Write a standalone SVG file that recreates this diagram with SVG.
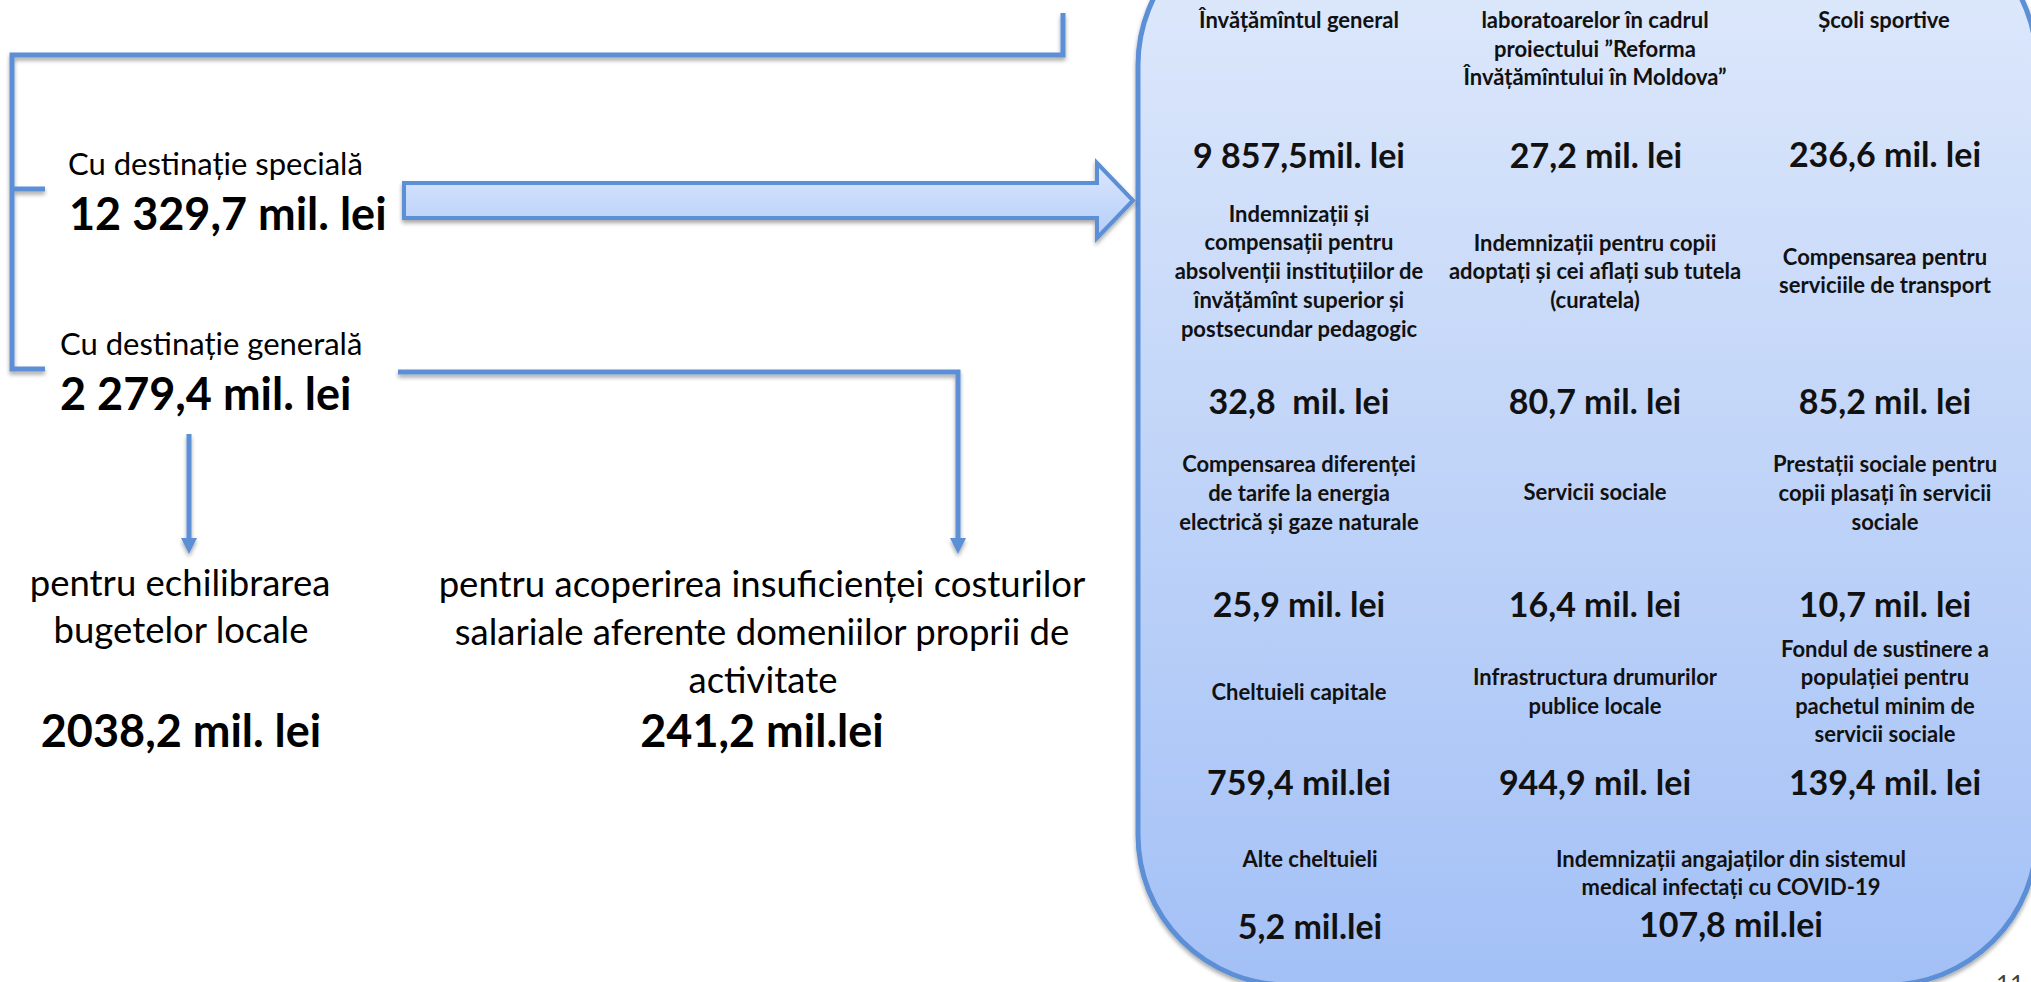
<svg xmlns="http://www.w3.org/2000/svg" width="2031" height="982" viewBox="0 0 2031 982">
<style>
  .ln{fill:none;stroke:#5b8fd6;stroke-width:5;stroke-linejoin:miter}
  .ah{fill:#5b8fd6;stroke:none}
  .lbl{font-family:Lato,"Liberation Sans",sans-serif;font-weight:700;font-size:22px;fill:#111;text-anchor:middle}
  .amt{font-family:Lato,"Liberation Sans",sans-serif;font-weight:700;font-size:34px;fill:#111;text-anchor:middle}
  .reg{font-family:Lato,"Liberation Sans",sans-serif;font-weight:400;font-size:31px;fill:#000}
  .big{font-family:Lato,"Liberation Sans",sans-serif;font-weight:700;font-size:45px;fill:#000}
  .regc{font-family:Lato,"Liberation Sans",sans-serif;font-weight:400;font-size:36.5px;fill:#000;text-anchor:middle}
  .bigc{font-family:Lato,"Liberation Sans",sans-serif;font-weight:700;font-size:45px;fill:#000;text-anchor:middle}
</style>
<defs>
  <linearGradient id="gBox" x1="0" y1="0" x2="0" y2="1">
    <stop offset="0" stop-color="#e0eafb"/>
    <stop offset="1" stop-color="#a3c0f6"/>
  </linearGradient>
  <linearGradient id="gArr" x1="0" y1="0" x2="0" y2="1">
    <stop offset="0" stop-color="#dbe7fd"/>
    <stop offset="1" stop-color="#b4cdf9"/>
  </linearGradient>
  <filter id="sh" x="-5%" y="-5%" width="110%" height="115%">
    <feGaussianBlur in="SourceAlpha" stdDeviation="2"/>
    <feOffset dx="0" dy="3" result="b"/>
    <feComponentTransfer><feFuncA type="linear" slope="0.35"/></feComponentTransfer>
    <feMerge><feMergeNode/><feMergeNode in="SourceGraphic"/></feMerge>
  </filter>
</defs>
<rect width="2031" height="982" fill="#ffffff"/>

<g id="box">
  <rect x="1138" y="-85" width="899" height="1070" rx="150" ry="150" fill="url(#gBox)" stroke="#5b8fd6" stroke-width="5" filter="url(#sh)"/>
</g>

<g id="connectors" filter="url(#sh)">
  <path class="ln" d="M1063,13 V55 H12 V369 H45"/>
  <path class="ln" d="M12,189 H45"/>
  <path class="ln" d="M398,372 H958 V540"/>
  <polygon class="ah" points="950,538 966,538 958,554"/>
  <path class="ln" d="M189,434 V540"/>
  <polygon class="ah" points="181,538 197,538 189,554"/>
  <polygon points="404,183 1097,183 1097,163 1133,200.5 1097,238 1097,218 404,218" fill="url(#gArr)" stroke="#5b8fd6" stroke-width="4" stroke-linejoin="miter"/>
</g>

<g id="special">
  <text class="reg" x="68" y="175">Cu destinație specială</text>
  <text class="big" x="69" y="230">12 329,7 mil. lei</text>
</g>
<g id="general">
  <text class="reg" x="60" y="355">Cu destinație generală</text>
  <text class="big" x="60" y="410">2 279,4 mil. lei</text>
</g>
<g id="echilibrare">
  <text class="regc" x="180" y="596">pentru echilibrarea</text>
  <text class="regc" x="181" y="643">bugetelor locale</text>
  <text class="bigc" x="181" y="747">2038,2 mil. lei</text>
</g>
<g id="salariale">
  <text class="regc" x="762" y="597">pentru acoperirea insuficienței costurilor</text>
  <text class="regc" x="762" y="645">salariale aferente domeniilor proprii de</text>
  <text class="regc" x="763" y="693">activitate</text>
  <text class="bigc" x="762" y="747">241,2 mil.lei</text>
</g>

<g id="c-invatamant">
  <text class="lbl" x="1299" y="28">Învățămîntul general</text>
  <text class="amt" x="1299" y="168">9 857,5mil. lei</text>
</g>
<g id="c-laboratoare">
  <text class="lbl" x="1595" y="28">laboratoarelor în cadrul</text>
  <text class="lbl" x="1595" y="57">proiectului ”Reforma</text>
  <text class="lbl" x="1595" y="85">Învățămîntului în Moldova”</text>
  <text class="amt" x="1596" y="168">27,2 mil. lei</text>
</g>
<g id="c-scoli">
  <text class="lbl" x="1884" y="28">Școli sportive</text>
  <text class="amt" x="1885" y="167">236,6 mil. lei</text>
</g>
<g id="c-absolventi">
  <text class="lbl" x="1299" y="222">Indemnizații și</text>
  <text class="lbl" x="1299" y="250">compensații pentru</text>
  <text class="lbl" x="1299" y="279">absolvenții instituțiilor de</text>
  <text class="lbl" x="1299" y="308">învățămînt superior și</text>
  <text class="lbl" x="1299" y="337">postsecundar pedagogic</text>
  <text class="amt" x="1299" y="414">32,8 &#160;mil. lei</text>
</g>
<g id="c-adoptati">
  <text class="lbl" x="1595" y="251">Indemnizații pentru copii</text>
  <text class="lbl" x="1595" y="279">adoptați și cei aflați sub tutela</text>
  <text class="lbl" x="1595" y="308">(curatela)</text>
  <text class="amt" x="1595" y="414">80,7 mil. lei</text>
</g>
<g id="c-transport">
  <text class="lbl" x="1885" y="265">Compensarea pentru</text>
  <text class="lbl" x="1885" y="293">serviciile de transport</text>
  <text class="amt" x="1885" y="414">85,2 mil. lei</text>
</g>
<g id="c-energie">
  <text class="lbl" x="1299" y="472">Compensarea diferenței</text>
  <text class="lbl" x="1299" y="501">de tarife la energia</text>
  <text class="lbl" x="1299" y="530">electrică și gaze naturale</text>
  <text class="amt" x="1299" y="617">25,9 mil. lei</text>
</g>
<g id="c-servicii">
  <text class="lbl" x="1595" y="500">Servicii sociale</text>
  <text class="amt" x="1595" y="617">16,4 mil. lei</text>
</g>
<g id="c-prestatii">
  <text class="lbl" x="1885" y="472">Prestații sociale pentru</text>
  <text class="lbl" x="1885" y="501">copii plasați în servicii</text>
  <text class="lbl" x="1885" y="530">sociale</text>
  <text class="amt" x="1885" y="617">10,7 mil. lei</text>
</g>
<g id="c-capitale">
  <text class="lbl" x="1299" y="700">Cheltuieli capitale</text>
  <text class="amt" x="1299" y="795">759,4 mil.lei</text>
</g>
<g id="c-drumuri">
  <text class="lbl" x="1595" y="685">Infrastructura drumurilor</text>
  <text class="lbl" x="1595" y="714">publice locale</text>
  <text class="amt" x="1595" y="795">944,9 mil. lei</text>
</g>
<g id="c-fond">
  <text class="lbl" x="1885" y="657">Fondul de sustinere a</text>
  <text class="lbl" x="1885" y="685">populației pentru</text>
  <text class="lbl" x="1885" y="714">pachetul minim de</text>
  <text class="lbl" x="1885" y="742">servicii sociale</text>
  <text class="amt" x="1885" y="795">139,4 mil. lei</text>
</g>
<g id="c-alte">
  <text class="lbl" x="1310" y="867">Alte cheltuieli</text>
  <text class="amt" x="1310" y="939">5,2 mil.lei</text>
</g>
<g id="c-covid">
  <text class="lbl" x="1731" y="867">Indemnizații angajaților din sistemul</text>
  <text class="lbl" x="1731" y="895">medical infectați cu COVID-19</text>
  <text class="amt" x="1731" y="937">107,8 mil.lei</text>
</g>
<g id="page">
  <text x="2010" y="992" font-family="Lato,'Liberation Sans',sans-serif" font-size="24" fill="#404040" text-anchor="middle">11</text>
</g>
</svg>
